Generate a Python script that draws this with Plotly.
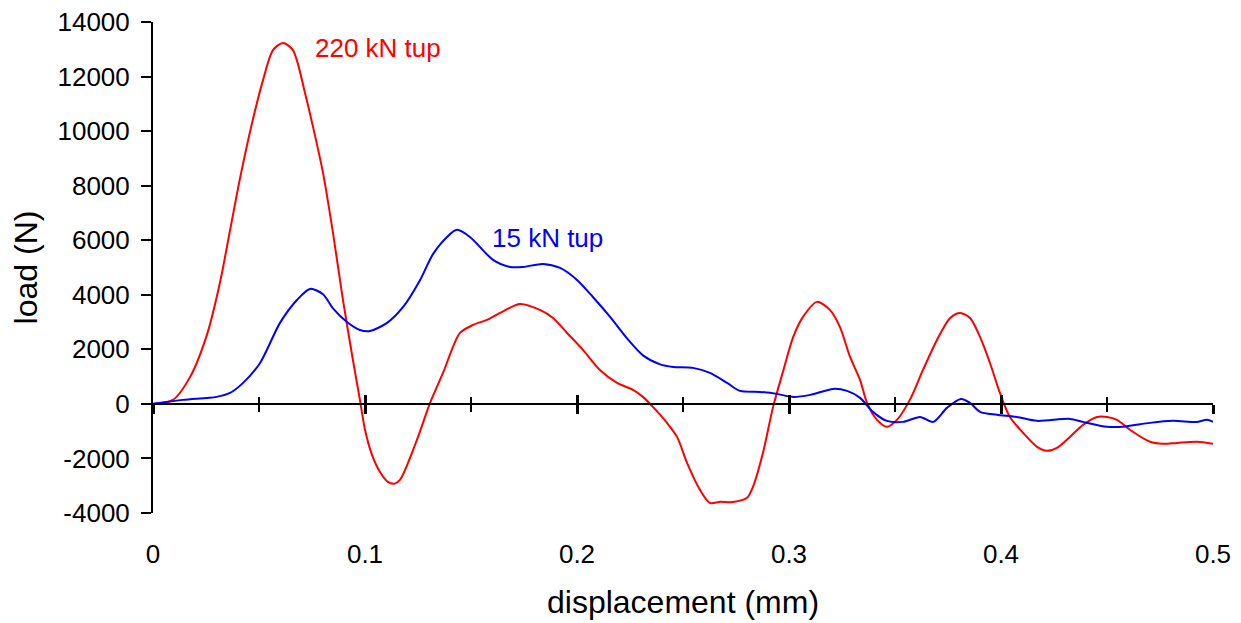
import plotly.graph_objects as go

# 220 kN tup (red)
red_x = [0, 0.0094, 0.0175, 0.0255, 0.0316, 0.0363, 0.041, 0.0472, 0.0519, 0.0566, 0.0613, 0.066,
         0.0717, 0.0755, 0.0802, 0.0849, 0.0896, 0.0943, 0.0976, 0.1, 0.1033, 0.107, 0.1108, 0.1137,
         0.1165, 0.1245, 0.1307, 0.1368, 0.1448, 0.151, 0.1575, 0.1637, 0.1731, 0.1825, 0.1887,
         0.1953, 0.2028, 0.2108, 0.2189, 0.2264, 0.2311, 0.2358, 0.2425, 0.2472, 0.2519, 0.258,
         0.2627, 0.2675, 0.2736, 0.2802, 0.283, 0.2877, 0.2925, 0.297, 0.302, 0.3066, 0.3132,
         0.3193, 0.324, 0.3288, 0.3335, 0.3368, 0.3415, 0.3462, 0.3509, 0.357, 0.3632, 0.3698,
         0.376, 0.3807, 0.3854, 0.3901, 0.3948, 0.3995, 0.4042, 0.4104, 0.417, 0.4217, 0.4264,
         0.4325, 0.4387, 0.4453, 0.45, 0.4547, 0.4608, 0.4703, 0.4764, 0.483, 0.4925, 0.5]
red_y = [0, 146, 990, 2550, 4450, 6350, 8250, 10450, 11870, 12970, 13230, 12970,
         11400, 10150, 8470, 6270, 3810, 1610, 147, -950, -1870, -2490, -2860, -2930,
         -2785, -1320, 37, 1136, 2600, 2895, 3080, 3335, 3665, 3445, 3150,
         2600, 1980, 1245, 770, 513, 257, -110, -700, -1210, -2160, -3150,
         -3630, -3590, -3600, -3445, -3040, -1800, -110, 1136, 2455, 3190, 3740,
         3445, 2820, 1720, 880, 37, -586, -840, -586, 147, 1246, 2345,
         3150, 3335, 3150, 2455, 1500, 400, -480, -1060, -1575, -1720, -1610,
         -1210, -770, -480, -480, -586, -950, -1390, -1465, -1430, -1390, -1465]

# 15 kN tup (blue)
blue_x = [0, 0.0142, 0.030, 0.0363, 0.0425, 0.0505, 0.0599, 0.0679, 0.0741, 0.0802, 0.0849,
          0.0915, 0.0976, 0.1024, 0.1104, 0.118, 0.126, 0.132, 0.1387, 0.1434, 0.1495, 0.1604,
          0.1684, 0.1745, 0.184, 0.192, 0.2, 0.2075, 0.2156, 0.2236, 0.2311, 0.2392, 0.2453,
          0.2547, 0.2627, 0.2708, 0.2769, 0.2863, 0.2943, 0.3015, 0.31, 0.3208, 0.3274, 0.3335,
          0.3396, 0.3462, 0.3538, 0.3618, 0.368, 0.3745, 0.3811, 0.3854, 0.3901, 0.398, 0.4075,
          0.417, 0.4325, 0.4387, 0.45, 0.4575, 0.4703, 0.4811, 0.4925, 0.4972, 0.5]
blue_y = [0, 147, 257, 400, 770, 1500, 2970, 3810, 4215, 4020, 3500,
          3000, 2710, 2675, 2970, 3555, 4545, 5480, 6120, 6380, 6120, 5280,
          5020, 5020, 5130, 4985, 4545, 3920, 3190, 2400, 1780, 1450, 1356,
          1320, 1136, 770, 477, 440, 367, 257, 330, 550, 477, 220,
          -293, -623, -660, -477, -660, -147, 183, 37, -293, -400, -477,
          -623, -550, -660, -840, -840, -696, -623, -660, -586, -660]

x_tick_vals = [0, 0.1, 0.2, 0.3, 0.4, 0.5]
x_tick_text = ["0", "0.1", "0.2", "0.3", "0.4", "0.5"]
y_tick_vals = [-4000, -2000, 0, 2000, 4000, 6000, 8000, 10000, 12000, 14000]
y_tick_text = ["-4000", "-2000", "0", "2000", "4000", "6000", "8000", "10000", "12000", "14000"]

FONT = "Liberation Sans, Arial, sans-serif"
X_RANGE = [0, 0.5]
Y_RANGE = [-4000.5, 14000.5]
zero_pos = (0 - Y_RANGE[0]) / (Y_RANGE[1] - Y_RANGE[0])

fig = go.Figure()
fig.add_trace(go.Scatter(x=red_x, y=red_y, mode="lines",
                         line=dict(color="#FF0000", width=2, shape="spline", smoothing=0.8),
                         showlegend=False, hoverinfo="skip"))
fig.add_trace(go.Scatter(x=blue_x, y=blue_y, mode="lines",
                         line=dict(color="#0000FF", width=2, shape="spline", smoothing=0.8),
                         showlegend=False, hoverinfo="skip"))
# invisible traces to carry the crossing tick axes at y=0
fig.add_trace(go.Scatter(x=X_RANGE, y=[None, None], xaxis="x2", yaxis="y", showlegend=False, hoverinfo="skip"))
fig.add_trace(go.Scatter(x=X_RANGE, y=[None, None], xaxis="x3", yaxis="y", showlegend=False, hoverinfo="skip"))

fig.add_annotation(x=0.0755, y=13050, text="220 kN tup", showarrow=False, xanchor="left", yanchor="middle",
                   font=dict(color="#FF0000", size=26, family=FONT))
fig.add_annotation(x=0.159, y=6085, text="15 kN tup", showarrow=False, xanchor="left", yanchor="middle",
                   font=dict(color="#0000FF", size=26, family=FONT))

cross = dict(range=X_RANGE, overlaying="x", anchor="free", position=zero_pos, showgrid=False, zeroline=False,
             tickwidth=2.5, tickcolor="black", dtick=0.1, tick0=0, ticklen=9, showticklabels=False,
             automargin=False,
             minor=dict(dtick=0.05, tick0=0, ticklen=7, tickwidth=2, tickcolor="black", showgrid=False))

fig.update_layout(
    width=1241, height=623,
    margin=dict(l=145, r=36, t=14, b=118, pad=0, autoexpand=False),
    paper_bgcolor="white", plot_bgcolor="white",
    font=dict(family=FONT, color="black", size=26),
    xaxis=dict(range=X_RANGE, tickvals=x_tick_vals, ticktext=x_tick_text, showgrid=False, zeroline=False,
               showline=False, ticks="outside", ticklen=18, tickcolor="rgba(0,0,0,0)",
               tickfont=dict(size=26, family=FONT), ticklabeloverflow="allow", automargin=False,
               title=dict(text="displacement (mm)", font=dict(size=32, family=FONT), standoff=22)),
    xaxis2=dict(cross, showline=True, linecolor="black", linewidth=2, ticks="outside",
                minor=dict(cross["minor"], ticks="outside")),
    xaxis3=dict(cross, showline=False, ticks="inside",
                minor=dict(cross["minor"], ticks="inside")),
    yaxis=dict(range=Y_RANGE, tickvals=y_tick_vals, ticktext=y_tick_text, showgrid=False, zeroline=False,
               showline=True, linecolor="black", linewidth=2, ticks="outside", ticklen=10, tickwidth=2,
               tickcolor="black", tickfont=dict(size=26, family=FONT), ticklabelstandoff=6,
               ticklabeloverflow="allow", automargin=False,
               title=dict(text="load (N)", font=dict(size=32, family=FONT), standoff=10)),
)

fig.write_html("out.html")
